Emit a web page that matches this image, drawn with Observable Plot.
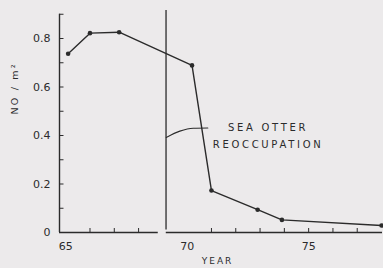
<!DOCTYPE html>
<html>
<head>
<meta charset="utf-8">
<script src="https://cdn.jsdelivr.net/npm/d3@7"></script>
<script src="https://cdn.jsdelivr.net/npm/@observablehq/plot@0.6"></script>
<style>
  html, body { margin: 0; padding: 0; background: #eceaeb; }
  #chart svg { display: block; }
</style>
</head>
<body>
<div id="chart"></div>
<script>
// Data
const years   = [65.1, 66.0, 67.2, 70.2, 71.0, 72.9, 73.9, 78.0];
const density = [0.737, 0.822, 0.826, 0.689, 0.173, 0.094, 0.052, 0.029];

// Axis ticks / labels
const xLabelTicks = [65, 70, 75];
const xMinorLeft  = [66, 67, 68];
const xMinorRight = [71, 72, 73, 74, 75, 76, 77];
const yLabelTicks = [0, 0.2, 0.4, 0.6, 0.8];
const yMinor      = [0.1, 0.2, 0.3, 0.4, 0.5, 0.6, 0.7, 0.8, 0.9];

// Annotation
const reoccupationYear = 69.13;
const annotationText = "SEA OTTER\nREOCCUPATION";
const yLabel = "NO / m²";
const xLabel = "YEAR";
const leaderX = [69.14, 69.7, 70.25, 70.85];
const leaderY = [0.392, 0.418, 0.430, 0.431];

const xDomain = [64.745, 78.04];
const yDomain = [0, 0.9155];
const breakLeftEnd = 68.81, breakRightStart = 69.14;

const pts = years.map((x, i) => ({x, y: density[i]}));
const leader = leaderX.map((x, i) => ({x, y: leaderY[i]}));

const ink = "#2b2b2b";
const xTickLen = 4 / 242.5;   // data units of tick length
const yTickLen = 4.5 / 24.3;

const chart = Plot.plot({
  width: 383,
  height: 268,
  marginLeft: 59,
  marginRight: 1,
  marginTop: 10,
  marginBottom: 36,
  style: {background: "#eceaeb", fontFamily: "DejaVu Sans, sans-serif", color: ink},
  x: {domain: xDomain},
  y: {domain: yDomain},
  marks: [
    // axes lines
    Plot.ruleX([xDomain[0]], {y1: 0, y2: 0.9, stroke: ink, strokeWidth: 1.4}),
    Plot.ruleY([0], {x1: xDomain[0], x2: breakLeftEnd, stroke: ink, strokeWidth: 1.4}),
    Plot.ruleY([0], {x1: breakRightStart, x2: xDomain[1], stroke: ink, strokeWidth: 1.4}),
    // y ticks (inward)
    Plot.ruleY(yMinor, {x1: xDomain[0], x2: xDomain[0] + yTickLen, stroke: ink, strokeWidth: 1}),
    // x ticks (inward)
    Plot.ruleX(xMinorLeft.concat(xMinorRight), {y1: 0, y2: xTickLen, stroke: ink, strokeWidth: 1}),
    // reoccupation line
    Plot.ruleX([reoccupationYear], {y1: 0.01, y2: yDomain[1], stroke: ink, strokeWidth: 1.3}),
    // axis labels
    Plot.axisY({ticks: yLabelTicks, tickSize: 0, tickPadding: 9, fontSize: 11,
      tickFormat: d => d === 0 ? "0" : d3.format(".1f")(d), label: null}),
    Plot.axisX({ticks: xLabelTicks, tickSize: 0, tickPadding: 10, fontSize: 11,
      tickFormat: d => String(d), label: null}),
    Plot.text([yLabel], {frameAnchor: "left", dx: -45, dy: -7, rotate: -90,
      fontSize: 9.5, fill: ink}),
    Plot.text([xLabel], {x: () => 71.25, frameAnchor: "bottom", dy: 31,
      fontSize: 9, fill: ink}),
    // data
    Plot.line(pts, {x: "x", y: "y", stroke: ink, strokeWidth: 1.4}),
    Plot.dot(pts, {x: "x", y: "y", r: 2.3, fill: ink, stroke: "none"}),
    // annotation
    Plot.line(leader, {x: "x", y: "y", curve: "monotone-x", stroke: ink, strokeWidth: 1.1}),
    Plot.text([annotationText], {x: () => 73.33, y: () => 0.406, fontSize: 10,
      lineHeight: 1.7, fill: ink})
  ]
});

// letter spacing to mimic the stencil lettering
d3.select(chart).selectAll("text").each(function () {
  const t = this.textContent;
  if (t.includes("SEA OTTER") || t.includes("REOCCUPATION")) this.setAttribute("letter-spacing", "2.7");
  else if (t === yLabel) this.setAttribute("letter-spacing", "2.2");
  else if (t === xLabel) this.setAttribute("letter-spacing", "2");
});
document.getElementById("chart").appendChild(chart);
</script>
</body>
</html>
